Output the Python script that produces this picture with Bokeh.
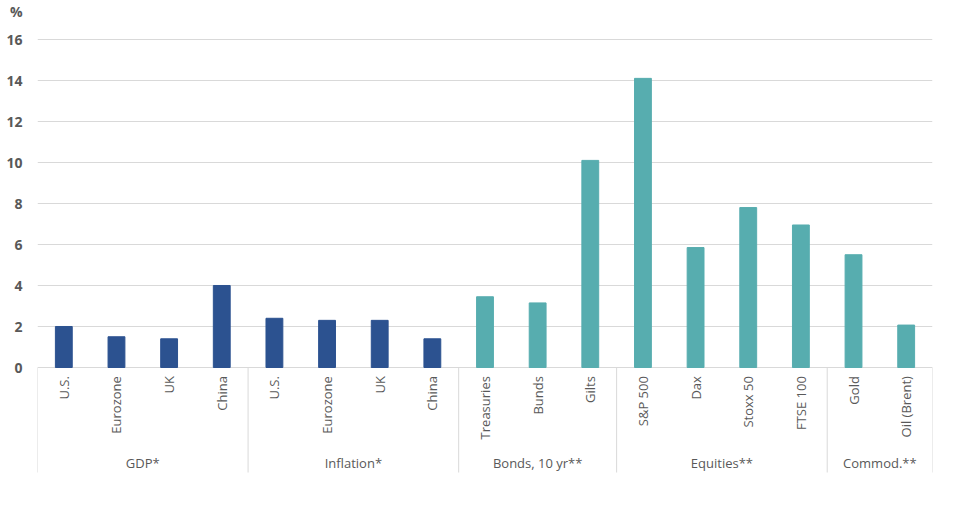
import math
from bokeh.plotting import figure
from bokeh.models import Range1d, FixedTicker, ColumnDataSource
from bokeh.core.properties import value
from bokeh.embed import file_html
from bokeh.resources import INLINE

# ---- data ----
groups = ["GDP*", "Inflation*", "Bonds, 10 yr**", "Equities**", "Commod.**"]
group_categories = [
    ["U.S.", "Eurozone", "UK", "China"],
    ["U.S.", "Eurozone", "UK", "China"],
    ["Treasuries", "Bunds", "Gilts"],
    ["S&P 500", "Dax", "Stoxx 50", "FTSE 100"],
    ["Gold", "Oil (Brent)"],
]
group_values = [
    [2.0, 1.5, 1.4, 4.0],
    [2.4, 2.3, 2.3, 1.4],
    [3.45, 3.15, 10.1],
    [14.1, 5.85, 7.8, 6.95],
    [5.5, 2.07],
]
y_ticks = [0, 2, 4, 6, 8, 10, 12, 14, 16]
unit_label = "%"

DARK = "#2C5290"
TEAL = "#57ADAF"
group_colors = [DARK, DARK, TEAL, TEAL, TEAL]
FONT = "Open Sans"
TXT = "#595959"
GRID = "#d9d9d9"

# ---- build positions ----
xs, vals, cols, labels = [], [], [], []
bounds = [0]
gcenters = []
i = 0
for g, cats, vs, c in zip(groups, group_categories, group_values, group_colors):
    start = i
    for cat, v in zip(cats, vs):
        xs.append(i + 0.5)
        vals.append(v)
        cols.append(c)
        labels.append(cat)
        i += 1
    bounds.append(i)
    gcenters.append((start + i) / 2)
n = i

UNIT_POS = 17.37  # place of the unit label above the top tick

p = figure(width=962, height=490, output_backend="svg", toolbar_location=None,
           x_range=Range1d(0, n), y_range=Range1d(-5.51, 17.8),
           min_border_left=37, min_border_right=30, min_border_top=2, min_border_bottom=10)

p.outline_line_color = None
p.xaxis.visible = False
p.xgrid.visible = False
p.yaxis.ticker = FixedTicker(ticks=y_ticks + [UNIT_POS])
p.yaxis.major_label_overrides = {UNIT_POS: unit_label}
p.yaxis.axis_line_color = None
p.yaxis.major_tick_line_color = None
p.yaxis.major_tick_out = 0
p.yaxis.major_tick_in = 0
p.yaxis.minor_tick_line_color = None
p.yaxis.minor_tick_out = 0
p.yaxis.major_label_standoff = 15
p.yaxis.major_label_text_font = FONT
p.yaxis.major_label_text_font_size = "14px"
p.yaxis.major_label_text_font_style = "bold"
p.yaxis.major_label_text_color = TXT
p.ygrid.ticker = FixedTicker(ticks=y_ticks)
p.ygrid.grid_line_color = GRID
p.ygrid.grid_line_width = 1

src = ColumnDataSource(dict(x=xs, top=vals, color=cols, label=labels))
p.vbar(x="x", top="top", bottom=0, width=0.32, color="color", source=src)

# category labels (rotated)
p.text(x="x", y=-0.42, text="label", angle=math.pi / 2, text_align="right",
       text_baseline="middle", text_font=value(FONT), text_font_size="13px",
       text_color=TXT, source=src)

# group separators
p.segment(x0=bounds, y0=[0] * len(bounds), x1=bounds, y1=[-5.12] * len(bounds),
          line_color=GRID, line_width=1)

# group labels
p.text(x=gcenters, y=[-4.68] * len(gcenters), text=groups, text_align="center",
       text_baseline="middle", text_font=value(FONT), text_font_size="13px",
       text_color=TXT)

open("out.html", "w").write(file_html(p, INLINE))
